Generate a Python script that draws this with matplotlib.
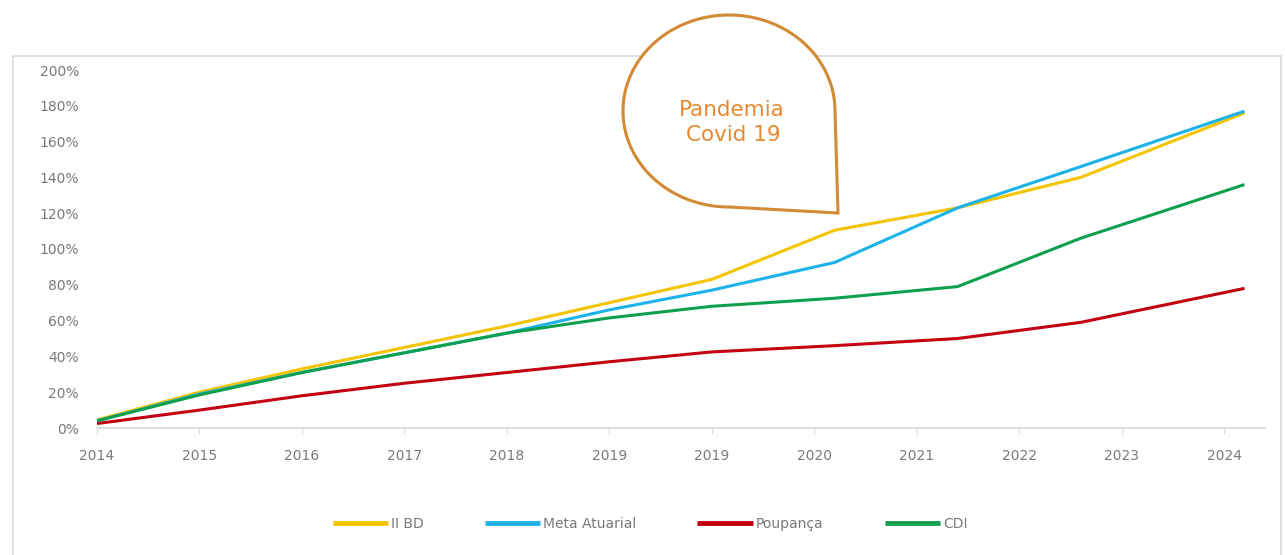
import numpy as np
import matplotlib
matplotlib.use("Agg")
from matplotlib import pyplot as plt
from matplotlib.patches import Polygon, Rectangle

# rotulos do eixo x (categorias como no original)
anos = ['2014', '2015', '2016', '2017', '2018', '2019', '2019', '2020', '2021', '2022', '2023', '2024']

# posicoes dos vertices das linhas (em unidades de rotulo)
pos_x = [0, 1, 2, 3, 4, 5, 6, 7.2, 8.4, 9.6, 11.2]

# valores (%)
ii_bd = [4.5, 20, 33, 45, 57, 70, 83, 110.5, 123, 140, 176]
meta_atuarial = [4, 19, 31, 42, 53, 66, 77, 92.5, 123, 146, 177]
poupanca = [2.5, 10, 18, 25, 31, 37, 42.5, 46, 50, 59, 78]
cdi = [4, 18.5, 31, 42, 53, 61.5, 68, 72.5, 79, 106, 136]

series = [
    ('II BD', ii_bd, '#F5C400'),
    ('Meta Atuarial', meta_atuarial, '#1CB2EA'),
    ('Poupança', poupanca, '#C3000F'),
    ('CDI', cdi, '#0EA04E'),
]

W, H = 1285, 555
fig = plt.figure(figsize=(W / 100, H / 100), dpi=100)
fig.patch.set_facecolor('white')

# moldura externa do grafico
moldura = fig.add_axes([0, 0, 1, 1], zorder=0)
moldura.set_xlim(0, W)
moldura.set_ylim(H, 0)
moldura.axis('off')
moldura.add_patch(Rectangle((13, 56), 1268, 520, fill=False, edgecolor='#d9d9d9', lw=1.2))

# area do grafico
ax = fig.add_axes([97 / W, (H - 428) / H, (1265 - 97) / W, (428 - 70) / H], zorder=1)
ax.patch.set_alpha(0)
for nome, valores, cor in series:
    ax.plot(pos_x, valores, color=cor, lw=2.2, label=nome, solid_capstyle='butt')

ax.set_xlim(0, 11.4)
ax.set_ylim(0, 200)
ax.set_xticks(range(len(anos)))
ax.set_xticklabels(anos)
ax.set_yticks(range(0, 201, 20))
ax.set_yticklabels([f'{v}%' for v in range(0, 201, 20)])
ax.tick_params(axis='x', colors='#d9d9d9', labelcolor='#7a7a7a', labelsize=10, length=4, pad=11)
ax.tick_params(axis='y', length=0, labelcolor='#7a7a7a', labelsize=10, pad=13)
for lado in ['top', 'right', 'left']:
    ax.spines[lado].set_visible(False)
ax.spines['bottom'].set_color('#d9d9d9')
ax.spines['bottom'].set_linewidth(1.2)

# legenda
leg = fig.legend(loc='center', bbox_to_anchor=(650 / W, (H - 524) / H), ncol=4, frameon=False,
                 fontsize=10, handlelength=4, columnspacing=4.4, handletextpad=0.2)
for linha in leg.get_lines():
    linha.set_linewidth(3.5)
for t in leg.get_texts():
    t.set_color('#7a7a7a')

# balao "Pandemia Covid 19"
balao = fig.add_axes([0, 0, 1, 1], zorder=5)
balao.set_xlim(0, W)
balao.set_ylim(H, 0)
balao.axis('off')
cx, cy, rh, rv = 729, 111, 106, 96
t = np.linspace(0, 1.5 * np.pi, 200)
pts = np.column_stack([cx + rh * np.cos(t), cy - rv * np.sin(t)])
pts = np.vstack([pts, [[838, 213]]])
balao.add_patch(Polygon(pts, closed=True, facecolor='white', edgecolor='#D28A34', lw=2.2))
balao.text(732, 110, 'Pandemia', ha='center', va='center', fontsize=15.5,
           color='#E8892E', family='DejaVu Sans')
balao.text(733, 135, 'Covid 19', ha='center', va='center', fontsize=15.5,
           color='#E8892E', family='DejaVu Sans')

fig.savefig('out.png', dpi=100)
